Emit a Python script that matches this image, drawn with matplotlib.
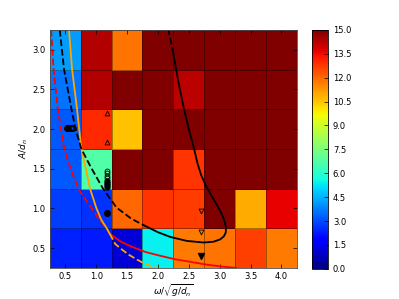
'''
Map of the response over the forcing plane, with the boundary curves
and the measured points drawn on top.
Values are read off the old figure by hand.
'''

import numpy as np
import matplotlib.pyplot as plt

# cell centres
omega = [0.5, 1.0, 1.5, 2.0, 2.5, 3.0, 3.5, 4.0]
amp = [0.5, 1.0, 1.5, 2.0, 2.5, 3.0]

# cell values, one row per amplitude (bottom row first)
values = [
    [2.4, 2.25, 1.15, 5.4, 11.7, 11.8, 12.6, 11.7],
    [2.8, 2.6, 12.0, 12.8, 12.7, 15.0, 10.9, 13.6],
    [3.2, 6.7, 15.0, 15.0, 12.8, 15.0, 15.0, 15.0],
    [3.2, 13.0, 10.6, 15.0, 15.0, 15.0, 15.0, 15.0],
    [3.6, 14.3, 15.0, 15.0, 14.2, 15.0, 15.0, 15.0],
    [4.2, 14.3, 11.8, 15.0, 15.0, 15.0, 15.0, 15.0],
]

# red curve, dashed part then solid part
red_dash_x = [0.27, 0.31, 0.38, 0.48, 0.60, 0.71, 0.82, 0.92, 1.05, 1.17, 1.22]
red_dash_y = [3.25, 2.75, 2.25, 1.75, 1.47, 1.25, 1.12, 1.01, 0.86, 0.75, 0.68]
red_x = [1.22, 1.40, 1.60, 1.80, 2.00, 2.27, 2.50, 2.80, 3.00, 3.27]
red_y = [0.68, 0.58, 0.51, 0.45, 0.41, 0.36, 0.33, 0.29, 0.27, 0.25]

# orange curve, solid part then dashed part
orange_x = [0.56, 0.61, 0.69, 0.76, 0.83, 0.90, 1.00, 1.08, 1.17, 1.22]
orange_y = [3.25, 2.75, 2.25, 1.75, 1.51, 1.25, 1.01, 0.86, 0.75, 0.68]
orange_dash_x = [1.22, 1.31, 1.42, 1.52, 1.65, 1.79, 1.90, 1.99]
orange_dash_y = [0.68, 0.55, 0.48, 0.42, 0.36, 0.30, 0.27, 0.25]

# black curve: dashed branch, solid loop, dashed end
black_dash_x = [0.41, 0.48, 0.60, 0.665, 0.76, 0.92, 1.11, 1.33, 1.57, 1.79]
black_dash_y = [3.25, 2.75, 2.25, 2.00, 1.75, 1.51, 1.25, 1.01, 0.87, 0.78]
black_x = [1.79, 2.00, 2.20, 2.47, 2.74, 2.90, 3.01, 3.07, 3.10, 3.10, 3.07,
           3.02, 2.95, 2.86, 2.78, 2.70, 2.64, 2.58, 2.50, 2.42, 2.33, 2.25]
black_y = [0.78, 0.70, 0.64, 0.59, 0.57, 0.58, 0.61, 0.65, 0.70, 0.77, 0.86,
           0.95, 1.05, 1.17, 1.28, 1.42, 1.57, 1.77, 2.00, 2.26, 2.60, 2.95]
black_end_x = [2.25, 2.21, 2.17]
black_end_y = [2.95, 3.10, 3.25]

# measured points
dots_x = [0.52, 0.55, 0.57, 0.59, 0.61, 0.63]
dots_y = [2.01, 2.01, 2.01, 2.01, 2.01, 2.01]
stack_x = [1.17, 1.17, 1.17, 1.17, 1.17, 1.17, 1.17, 1.17]
stack_y = [1.27, 1.29, 1.32, 1.35, 1.38, 1.41, 1.44, 1.47]
up_x = [1.17, 1.17]
up_y = [2.20, 1.84]
down_x = [2.69, 2.69]
down_y = [0.97, 0.70]


def edges(centres):
    #cell edges half a step round each centre
    c = np.asarray(centres)
    step = c[1] - c[0]
    return np.append(c - step / 2, c[-1] + step / 2)


def main():
    plt.rcParams['font.size'] = 6
    fig = plt.figure(figsize=(3.99, 2.99), dpi=100)
    ax = fig.add_axes([0.125, 0.104, 0.619, 0.796])
    cax = fig.add_axes([0.782, 0.101, 0.040, 0.799])

    #coloured cells
    mesh = ax.pcolormesh(edges(omega), edges(amp), np.array(values),
                         cmap='jet', vmin=0, vmax=15,
                         edgecolors=(0, 0, 0, 0.35), linewidth=0.6)

    #curves
    ax.plot(red_dash_x, red_dash_y, color='red', ls='--', lw=1.3)
    ax.plot(red_x, red_y, color='red', lw=1.3)
    ax.plot(orange_x, orange_y, color='orange', lw=1.3)
    ax.plot(orange_dash_x, orange_dash_y, color='orange', ls='--', lw=1.3)
    ax.plot(black_dash_x, black_dash_y, color='k', ls='--', lw=1.3)
    ax.plot(black_x, black_y, color='k', lw=1.3)
    ax.plot(black_end_x, black_end_y, color='k', ls='--', lw=1.3)

    #points
    ax.plot(dots_x[:1], dots_y[:1], 'ko', ms=4)
    ax.plot(dots_x[1:], dots_y[1:], 'o', mfc='none', mec='k', ms=4, mew=0.6)
    ax.plot(stack_x[:4], stack_y[:4], 'ko', ms=3.5)
    ax.plot(stack_x[4:], stack_y[4:], 'o', mfc='none', mec='k', ms=3.5, mew=0.6)
    ax.plot([1.17], [0.94], 'ko', ms=4)
    ax.plot(up_x, up_y, '^', mfc='none', mec='k', ms=3.5, mew=0.6)
    ax.plot(down_x, down_y, 'v', mfc='none', mec='k', ms=3.5, mew=0.6)
    ax.plot([2.69], [0.40], 'kv', ms=4)

    ax.set_xlim(0.25, 4.25)
    ax.set_ylim(0.25, 3.25)
    ax.set_xticks(omega)
    ax.set_yticks(amp)
    ax.tick_params(direction='in', top=True, right=True, length=3, width=0.5,
                   pad=3)
    for s in ax.spines.values():
        s.set_linewidth(0.6)
        s.set_color('0.3')

    #putting labels
    ax.set_xlabel(r'$\omega/\sqrt{g/d_n}$', fontsize=6.5, labelpad=1)
    ax.set_ylabel(r'$A/d_n$', fontsize=6.5, labelpad=2)

    cb = fig.colorbar(mesh, cax=cax, ticks=np.arange(0, 15.1, 1.5))
    cb.ax.set_yticklabels(['%.1f' % t for t in np.arange(0, 15.1, 1.5)])
    cb.ax.tick_params(direction='in', length=3, width=0.5)
    cb.outline.set_linewidth(0.6)

    fig.savefig('out.png', dpi=100)


#make script importable and executables
if __name__ == "__main__":
    main()
